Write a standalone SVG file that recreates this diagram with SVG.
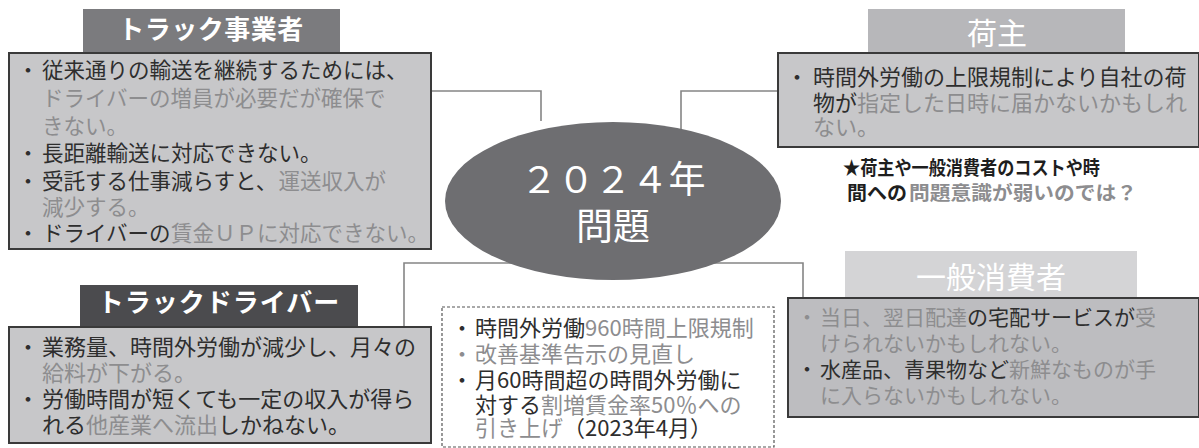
<svg xmlns="http://www.w3.org/2000/svg" width="1199" height="448" viewBox="0 0 1199 448">
<style>
text{font-family:"Noto Sans CJK JP","Noto Sans",sans-serif;}
.box{stroke:#3a3a3a;stroke-width:2;}
.t text{fill:#2e2e2e;}
.t text.l{fill:#8d8d8f;}
.title{fill:#fff;text-anchor:middle;}
.b{text-anchor:middle;}
.conn{fill:none;stroke:#858585;stroke-width:1.6;}
</style>
<rect width="1199" height="448" fill="#fff"/>
<g id="connectors">
<polyline class="conn" points="431,91 541,91 541,121"/>
<polyline class="conn" points="778,91 681,91 681,132"/>
<polyline class="conn" points="404,327 404,263 803,263 803,299"/>
</g>
<g id="center">
<ellipse cx="613" cy="201" rx="168" ry="79" fill="#6e6e71"/>
<text class="title" x="613" y="193" font-size="37">２０２４年</text>
<text class="title" x="613" y="240" font-size="37">問題</text>
</g>
<g id="trucking-company">
<rect x="83" y="9" width="257" height="44" fill="#7b7b7e"/>
<text class="title" x="211" y="39" font-size="26" font-weight="bold" letter-spacing="0.5">トラック事業者</text>
<rect class="box" x="9" y="53" width="422" height="196" fill="#c7c7c9"/>
<g class="t" font-size="21.5">
<text class="b" x="28" y="78">・</text>
<text x="42" y="78">従来通りの輸送を継続するためには、</text>
<text class="l" x="42" y="106">ドライバーの増員が必要だが確保で</text>
<text class="l" x="42" y="134">きない。</text>
<text class="b" x="28" y="161">・</text>
<text x="42" y="161">長距離輸送に対応できない。</text>
<text class="b" x="28" y="189">・</text>
<text x="42" y="189">受託する仕事減らすと、</text>
<text class="l" x="278.5" y="189">運送収入が</text>
<text class="l" x="42" y="215">減少する。</text>
<text class="b" x="28" y="241">・</text>
<text x="42" y="241">ドライバーの</text>
<text class="l" x="171" y="241">賃金ＵＰに対応できない。</text>
</g>
</g>
<g id="truck-driver">
<rect x="80" y="285" width="278" height="42" fill="#4b4b4e"/>
<text class="title" x="219" y="312" font-size="26" font-weight="bold" letter-spacing="1">トラックドライバー</text>
<rect class="box" x="9" y="327" width="422" height="116" fill="#c7c7c9"/>
<g class="t" font-size="22">
<text class="b" x="28" y="355">・</text>
<text x="42" y="355">業務量、時間外労働が減少し、月々の</text>
<text class="l" x="42" y="381">給料が下がる。</text>
<text class="b" x="28" y="407">・</text>
<text x="42" y="407">労働時間が短くても一定の収入が得ら</text>
<text x="42" y="433">れる</text>
<text class="l" x="86" y="433">他産業へ流出</text>
<text x="218" y="433">しかねない。</text>
</g>
</g>
<g id="regulations">
<rect x="442" y="307" width="332" height="140" fill="#fff" stroke="#555" stroke-width="1.2" stroke-dasharray="3,2"/>
<g class="t" font-size="22">
<text class="b" x="462" y="336">・</text>
<text x="475" y="336">時間外労働</text>
<text class="l" x="585" y="336">960時間上限規制</text>
<text class="b l" x="462" y="362">・</text>
<text class="l" x="475" y="362">改善基準告示の見直し</text>
<text class="b" x="462" y="388">・</text>
<text x="475" y="388">月60時間超の時間外労働に</text>
<text x="475" y="413">対する</text>
<text class="l" x="541" y="413">割増賃金率50％への</text>
<text class="l" x="475" y="436">引き上げ</text>
<text x="563" y="436">（2023年4月）</text>
</g>
</g>
<g id="shipper">
<rect x="868" y="9" width="257" height="44" fill="#b7b7ba"/>
<text class="title" x="997" y="44" font-size="30">荷主</text>
<rect class="box" x="778" y="53" width="421" height="94" fill="#c7c7c9"/>
<g class="t" font-size="22">
<text class="b" x="797" y="85">・</text>
<text x="813" y="85">時間外労働の上限規制により自社の荷</text>
<text x="813" y="111">物が</text>
<text class="l" x="857" y="111">指定した日時に届かないかもしれ</text>
<text class="l" x="813" y="135">ない。</text>
</g>
</g>
<g id="note" font-size="19" font-weight="bold">
<text x="843" y="175" fill="#1e1e1e" textLength="257" lengthAdjust="spacingAndGlyphs">★荷主や一般消費者のコストや時</text>
<text x="847" y="200" fill="#1e1e1e" textLength="60" lengthAdjust="spacingAndGlyphs">間への</text>
<text x="909" y="200" fill="#8d8d8f" textLength="228" lengthAdjust="spacingAndGlyphs">問題意識が弱いのでは？</text>
</g>
<g id="consumer">
<rect x="845" y="251" width="292" height="47" fill="#d4d4d6"/>
<text class="title" x="991" y="288" font-size="30">一般消費者</text>
<rect class="box" x="788" y="298" width="411" height="119" fill="#bdbdc0"/>
<g class="t" font-size="21">
<text class="b l" x="807" y="325">・</text>
<text class="l" x="820" y="325">当日、翌日配達</text>
<text x="967" y="325">の宅配サービスが</text>
<text class="l" x="1135" y="325">受</text>
<text class="l" x="820" y="351">けられないかもしれない。</text>
<text class="b" x="807" y="377">・</text>
<text x="820" y="377">水産品、青果物など</text>
<text class="l" x="1009" y="377">新鮮なものが手</text>
<text class="l" x="820" y="403">に入らないかもしれない。</text>
</g>
</g>
</svg>
